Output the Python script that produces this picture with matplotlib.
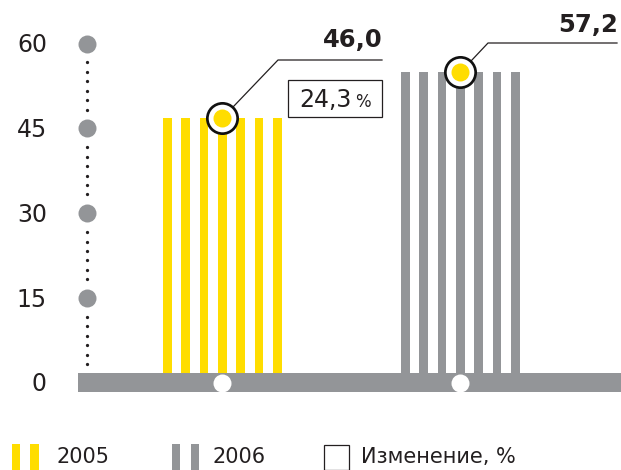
import numpy as np
import matplotlib
matplotlib.use("Agg")
import matplotlib.pyplot as plt
from matplotlib.patches import Rectangle

# данные
categories = ['2005', '2006']
values = [46.0, 57.2]          # подписи
bar_heights = [46.8, 54.9]     # высота столбиков, как на рисунке
change_pct = 24.3
yticks = [0, 15, 30, 45, 60]

YELLOW = '#FFDD00'
GREY = '#939598'
DARK = '#231F20'

W, H = 621, 470
fig = plt.figure(figsize=(W / 100, H / 100), dpi=100)
ax = fig.add_axes([0, 0, 1, 1])
ax.axis('off')

# масштаб: 0 -> 383 px, 60 -> 43.5 px; категории 0 и 1 -> 222.3 и 460.3 px
unit_y = (383 - 43.5) / 60
unit_x = 460.3 - 222.3
x0 = -222.3 / unit_x
ax.set_xlim(x0, x0 + W / unit_x)
ax.set_ylim(-(H - 383) / unit_y, 383 / unit_y)


def px(x, y):
    # пиксели картинки -> координаты данных
    return x0 + x / unit_x, (383 - y) / unit_y


xpos = np.arange(len(categories))
colors = [YELLOW, GREY]
pitch = 18.3 / unit_x
stripe_w = 8.8 / unit_x

# полосатые столбики
for i, h in enumerate(bar_heights):
    offs = xpos[i] + (np.arange(7) - 3) * pitch
    ax.bar(offs, [h] * 7, width=stripe_w, color=colors[i], zorder=2)

# базовая линия
ax.axhspan(-1.6, 1.75, xmin=78 / W, xmax=1, color=GREY, lw=0, zorder=3)
ax.scatter(xpos, [0, 0], s=168, color='white', lw=0, zorder=4)

# ось с точками
ax_x = px(87, 0)[0]
ax.scatter([ax_x] * 4, yticks[1:], s=168, color=GREY, lw=0, zorder=4)
for a, b in zip(yticks[1:], yticks[:-1]):
    dots = np.linspace(a, b, 10)[2:-2]
    ax.scatter([ax_x] * len(dots), dots, s=5.5, color=DARK, lw=0, zorder=4)
for t in yticks:
    ax.text(px(47, 0)[0], t - 1.5, str(t), ha='right', va='baseline',
            fontsize=17, color=DARK)

# выноски
elbows = [(278, 60, 382), (488, 43, 617)]
label_base = [47, 32]
for i, h in enumerate(bar_heights):
    ex, ey = px(elbows[i][0], elbows[i][1])
    endx = px(elbows[i][2], 0)[0]
    ax.plot([xpos[i], ex, endx], [h, ey, ey], color=DARK, lw=0.9, zorder=5)
    ax.scatter([xpos[i]], [h], s=476, facecolor='white', edgecolor='#111111',
               linewidth=1.95, zorder=6)
    ax.scatter([xpos[i]], [h], s=168, color=YELLOW, lw=0, zorder=7)
    lx, ly = px(elbows[i][2] + 1, label_base[i])
    ax.text(lx, ly, f'{values[i]:.1f}'.replace('.', ','), ha='right',
            va='baseline', fontsize=17.5, fontweight='bold', color=DARK)

# изменение, %
bx, by = px(288, 117)
ax.add_patch(Rectangle((bx, by), 94 / unit_x, 37 / unit_y, fill=False,
                       edgecolor=DARK, lw=0.9, zorder=5))
tx, ty = px(299, 107)
ax.text(tx, ty, f'{change_pct:.1f}'.replace('.', ','), ha='left', va='baseline',
        fontsize=17, color=DARK)
tx, ty = px(355, 107)
ax.text(tx, ty, '%', ha='left', va='baseline', fontsize=12, color=DARK)

# легенда
for i, (bx0, tx0) in enumerate([(12, 56), (172, 213)]):
    for dx in (0, 18.5):
        rx, ry = px(bx0 + dx, 470)
        ax.add_patch(Rectangle((rx, ry), 8.5 / unit_x, 26 / unit_y,
                               color=colors[i], lw=0, zorder=5))
    lx, ly = px(tx0, 463)
    ax.text(lx, ly, categories[i], ha='left', va='baseline', fontsize=15,
            color=DARK)
rx, ry = px(323.5, 469.5)
ax.add_patch(Rectangle((rx, ry), 25 / unit_x, 25 / unit_y, fill=False,
                       edgecolor=DARK, lw=0.9, zorder=5))
lx, ly = px(361, 463)
ax.text(lx, ly, 'Изменение, %', ha='left', va='baseline', fontsize=15,
        color=DARK)

fig.savefig('out.png', dpi=100)
